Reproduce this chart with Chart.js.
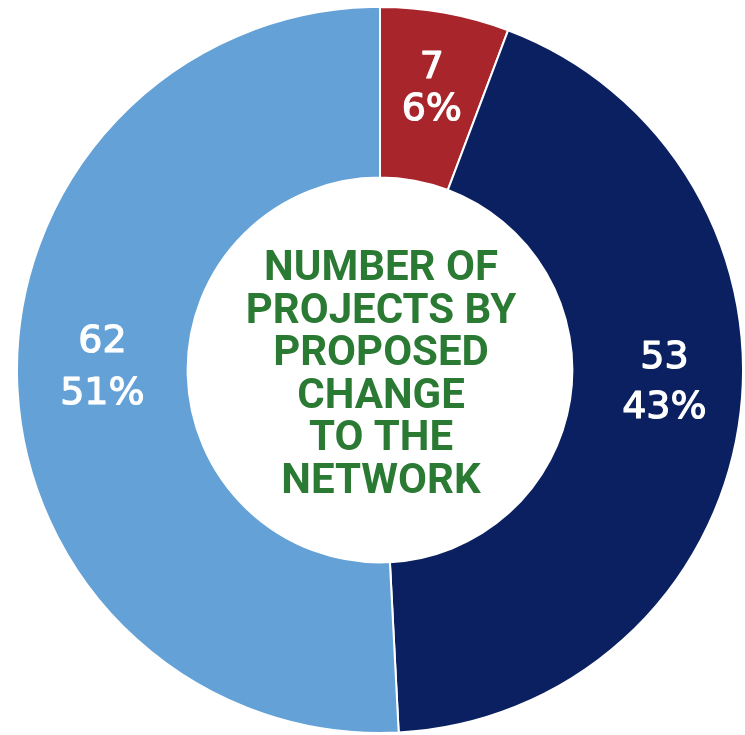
<!DOCTYPE html>
<html>
<head>
<meta charset="utf-8">
<script src="https://cdn.jsdelivr.net/npm/chart.js@4.4.1/dist/chart.umd.min.js"></script>
<style>
  html, body { margin: 0; padding: 0; background: #ffffff; overflow: hidden; }
  body { width: 745px; height: 735px; position: relative; }
  #wrap { position: absolute; left: 16px; top: 6px; width: 728px; height: 728px; }
</style>
</head>
<body>
<div id="wrap"><canvas id="ProjectsChart" width="728" height="728"></canvas></div>
<script>
(function () {
  "use strict";

  // Data
  const categories  = ['Red', 'Navy', 'Light blue'];
  const projects    = [7, 53, 62];
  const percents    = ['6%', '43%', '51%'];
  const centreTitle = ['NUMBER OF', 'PROJECTS BY', 'PROPOSED', 'CHANGE', 'TO THE', 'NETWORK'];

  // colours
  const red_500   = '#a8252c';
  const navy_500  = '#0a2060';
  const blue_300  = '#64a1d6';
  const green_700 = '#2b7a34';

  // label nudges (px) from the arc centre, and gap between the two lines
  const labelNudge = [
    { dx: 2,  dy: -8,  gap: 42 },
    { dx: 10, dy: -30, gap: 50 },
    { dx: 0,  dy: -9,  gap: 52 }
  ];

  // white value + percent inside each slice
  const sliceLabels = {
    id: 'sliceLabels',
    afterDatasetsDraw(chart) {
      const ctx = chart.ctx;
      const meta = chart.getDatasetMeta(0);
      ctx.save();
      ctx.fillStyle = '#ffffff';
      ctx.strokeStyle = '#ffffff';
      ctx.lineWidth = 1.2;
      ctx.lineJoin = 'round';
      ctx.textAlign = 'center';
      ctx.textBaseline = 'middle';
      ctx.font = '38px "DejaVu Sans"';
      meta.data.forEach((arc, i) => {
        const p = arc.tooltipPosition();
        const n = labelNudge[i];
        const x = p.x + n.dx;
        const y = p.y + n.dy;
        [[String(projects[i]), y - n.gap / 2], [percents[i], y + n.gap / 2]].forEach(([t, ty]) => {
          ctx.strokeText(t, x, ty);
          ctx.fillText(t, x, ty);
        });
      });
      ctx.restore();
    }
  };

  // green title in the hole
  const centreText = {
    id: 'centreText',
    afterDraw(chart) {
      const ctx = chart.ctx;
      const arc = chart.getDatasetMeta(0).data[0];
      const lh = 42.5;
      const top = arc.y + 6 - (centreTitle.length - 1) * lh / 2;
      ctx.save();
      ctx.fillStyle = green_700;
      ctx.textAlign = 'center';
      ctx.textBaseline = 'middle';
      ctx.font = 'bold 42px Roboto';
      centreTitle.forEach((line, i) => {
        ctx.fillText(line, arc.x + 1, top + i * lh);
      });
      ctx.restore();
    }
  };

  const chart_projects = document.getElementById('ProjectsChart');
  if (chart_projects != null) {
    new Chart(chart_projects.getContext('2d'), {
      type: 'doughnut',
      data: {
        labels: categories,
        datasets: [{
          label: 'Projects',
          data: projects,
          backgroundColor: [red_500, navy_500, blue_300],
          borderColor: '#ffffff',
          borderWidth: 2
        }]
      },
      options: {
        responsive: false,
        animation: false,
        cutout: '53%',
        layout: { padding: 0 },
        plugins: {
          legend: { display: false },
          tooltip: { enabled: false }
        }
      },
      plugins: [sliceLabels, centreText]
    });
  }
})();
</script>
</body>
</html>
